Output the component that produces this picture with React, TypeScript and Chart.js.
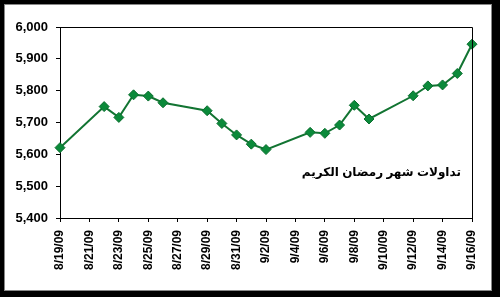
import React, { useEffect, useRef } from "react";
import { Chart, registerables } from "chart.js";

Chart.register(...registerables);

const categories = [
  "8/19/09", "8/20/09", "8/21/09", "8/22/09", "8/23/09", "8/24/09", "8/25/09",
  "8/26/09", "8/27/09", "8/28/09", "8/29/09", "8/30/09", "8/31/09", "9/1/09",
  "9/2/09", "9/3/09", "9/4/09", "9/5/09", "9/6/09", "9/7/09", "9/8/09",
  "9/9/09", "9/10/09", "9/11/09", "9/12/09", "9/13/09", "9/14/09", "9/15/09",
  "9/16/09",
];

const values: (number | null)[] = [
  5621, null, null, 5750, 5716, 5787, 5783,
  5762, null, null, 5737, 5697, 5661, 5632,
  5615, null, null, 5669, 5666, 5692, 5754,
  5711, null, null, 5784, 5815, 5818, 5854,
  5946,
];

const tickLabels = [
  "8/19/09", "8/21/09", "8/23/09", "8/25/09", "8/27/09", "8/29/09", "8/31/09",
  "9/2/09", "9/4/09", "9/6/09", "9/8/09", "9/10/09", "9/12/09", "9/14/09", "9/16/09",
];

const yMin = 5400;
const yMax = 6000;
const yStep = 100;

const annotationText = "تداولات شهر رمضان الكريم";

const FONT = "Arial, 'Liberation Sans', 'DejaVu Sans', sans-serif";

const frameAndText = {
  id: "frameAndText",
  afterDraw(chart: any) {
    const { ctx, chartArea } = chart;
    ctx.save();
    ctx.strokeStyle = "#000";
    ctx.lineWidth = 1;
    ctx.beginPath();
    ctx.moveTo(chartArea.left, chartArea.top + 0.5);
    ctx.lineTo(chartArea.right + 0.5, chartArea.top + 0.5);
    ctx.lineTo(chartArea.right + 0.5, chartArea.bottom);
    ctx.stroke();
    ctx.fillStyle = "#000";
    ctx.font = "bold 12px " + FONT;
    ctx.textAlign = "center";
    ctx.textBaseline = "middle";
    ctx.direction = "rtl";
    const x = chartArea.left + (chartArea.right - chartArea.left) * 0.78;
    const y = chartArea.top + (chartArea.bottom - chartArea.top) * 0.765;
    ctx.fillText(annotationText, x, y);
    ctx.restore();
  },
};

export default function App() {
  const ref = useRef<HTMLCanvasElement>(null);

  useEffect(() => {
    if (!ref.current) return;
    const chart = new Chart(ref.current, {
      type: "line",
      data: {
        labels: categories,
        datasets: [
          {
            data: values,
            borderColor: "#127432",
            backgroundColor: "#0b8a3a",
            pointBackgroundColor: "#0b8a3a",
            pointBorderColor: "#0a6e2e",
            pointBorderWidth: 1,
            pointStyle: "rectRot",
            pointRadius: 5,
            borderWidth: 2,
            spanGaps: true,
            tension: 0,
          },
        ],
      },
      options: {
        animation: false,
        responsive: false,
        devicePixelRatio: 1,
        layout: { padding: { top: 27, right: 28, left: 0, bottom: 0 } },
        plugins: { legend: { display: false }, tooltip: { enabled: false } },
        scales: {
          x: {
            type: "category",
            offset: false,
            afterFit: (s: any) => {
              s.height = 79;
            },
            border: { display: true, color: "#000", width: 1 },
            grid: {
              drawOnChartArea: false,
              drawTicks: true,
              tickLength: 4,
              color: (c: any) => (c.index % 2 === 0 ? "#000" : "rgba(0,0,0,0)"),
            },
            ticks: {
              autoSkip: false,
              maxRotation: 90,
              minRotation: 90,
              padding: 8,
              color: "#000",
              font: { family: FONT, size: 12, weight: "bold" },
              callback: (_v: any, i: number) =>
                i % 2 === 0 ? tickLabels[i / 2] : "",
            },
          },
          y: {
            min: yMin,
            max: yMax,
            afterFit: (s: any) => {
              s.width = 60;
            },
            border: { display: true, color: "#000", width: 1 },
            grid: { drawOnChartArea: false, drawTicks: true, tickLength: 4, color: "#000" },
            ticks: {
              stepSize: yStep,
              padding: 8,
              color: "#000",
              font: { family: FONT, size: 13, weight: "bold" },
              callback: (v: any) => Number(v).toLocaleString("en-US"),
            },
          },
        },
      },
      plugins: [frameAndText],
    });
    return () => chart.destroy();
  }, []);

  return (
    <div style={{ position: "fixed", left: 0, top: 0, width: 500, height: 297, background: "#000" }}>
      <div
        style={{
          position: "absolute",
          left: 4,
          top: 4,
          width: 488,
          height: 287,
          boxSizing: "border-box",
          border: "1px solid #888",
          background: "#fff",
        }}
      />
      <canvas
        ref={ref}
        width={500}
        height={297}
        style={{ position: "absolute", left: 0, top: 0, width: 500, height: 297 }}
      />
    </div>
  );
}
